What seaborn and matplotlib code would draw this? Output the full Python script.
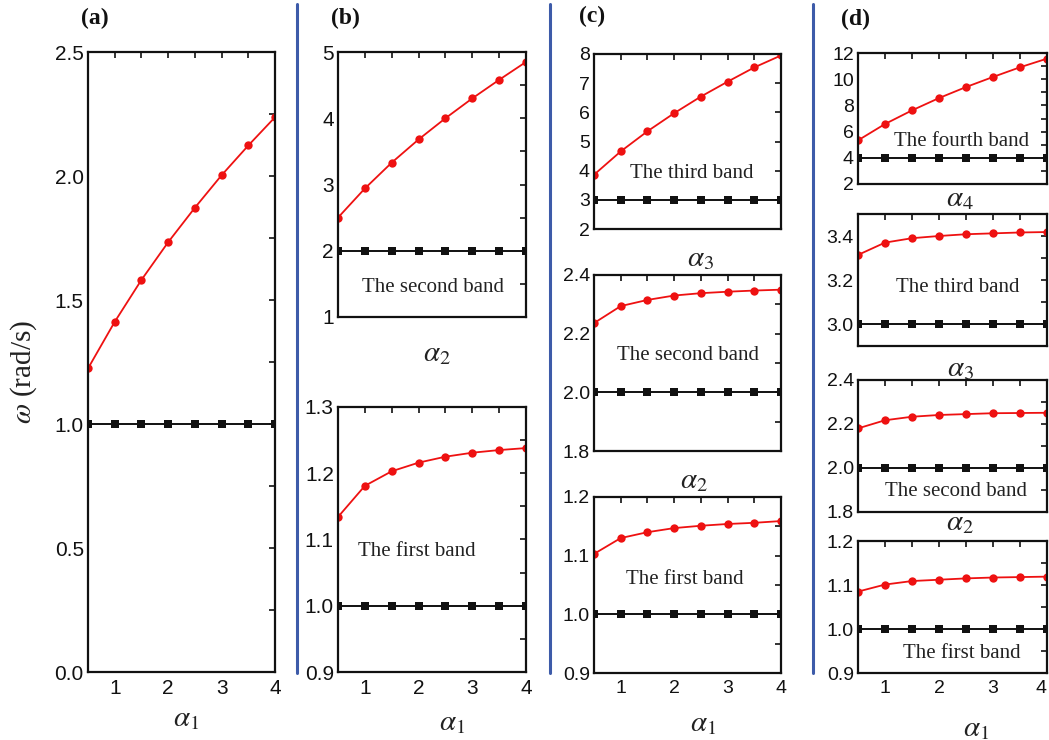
import numpy as np
import pandas as pd
import matplotlib
matplotlib.use("Agg")
import matplotlib.pyplot as plt
import seaborn as sns
from matplotlib.ticker import MultipleLocator, FormatStrFormatter
from matplotlib.lines import Line2D

sns.set_theme(style="white")
plt.rcParams['font.family'] = ['Liberation Sans', 'DejaVu Sans']
plt.rcParams['mathtext.fontset'] = 'stix'

# ---------------- data ----------------
alpha = [0.5, 1.0, 1.5, 2.0, 2.5, 3.0, 3.5, 4.0]
x_tick_labels = ['1', '2', '3', '4']

a_red = [1.224, 1.412, 1.581, 1.733, 1.872, 2.003, 2.123, 2.237]
a_black = [1.0] * 8

b2_red = [2.50, 2.94, 3.33, 3.68, 4.00, 4.30, 4.58, 4.85]
b2_black = [2.0] * 8
b1_red = [1.134, 1.181, 1.203, 1.216, 1.225, 1.231, 1.235, 1.238]
b1_black = [1.0] * 8

c3_red = [3.86, 4.66, 5.35, 5.97, 6.54, 7.05, 7.54, 7.95]
c3_black = [3.0] * 8
c2_red = [2.236, 2.294, 2.315, 2.330, 2.338, 2.343, 2.347, 2.350]
c2_black = [2.0] * 8
c1_red = [1.103, 1.130, 1.140, 1.147, 1.151, 1.154, 1.156, 1.159]
c1_black = [1.0] * 8

d4_red = [5.33, 6.58, 7.62, 8.56, 9.40, 10.17, 10.91, 11.57]
d4_black = [4.0] * 8
d3_red = [3.314, 3.370, 3.390, 3.400, 3.408, 3.412, 3.416, 3.418]
d3_black = [3.0] * 8
d2_red = [2.180, 2.217, 2.233, 2.241, 2.245, 2.249, 2.250, 2.251]
d2_black = [2.0] * 8
d1_red = [1.085, 1.101, 1.109, 1.112, 1.115, 1.117, 1.118, 1.119]
d1_black = [1.0] * 8

W, H = 1049, 740
fig = plt.figure(figsize=(W / 100, H / 100), dpi=100)
fig.patch.set_facecolor('white')


def px_axes(x0, x1, y0, y1):
    return fig.add_axes([x0 / W, 1 - y1 / H, (x1 - x0) / W, (y1 - y0) / H])


def panel(x0, x1, y0, y1, red, black, ylim, major, minor, fmt, xlabels,
          band=None, band_xy=None, band_size=15, xlab=None, xlab_xy=None,
          lsize=15):
    ax = px_axes(x0, x1, y0, y1)
    df = pd.DataFrame({'alpha': alpha, 'red': red, 'black': black})
    sns.lineplot(data=df, x='alpha', y='black', ax=ax, color='#111111',
                 marker='s', markersize=5.5, markeredgewidth=0, linewidth=1.4)
    sns.lineplot(data=df, x='alpha', y='red', ax=ax, color='#ee1111',
                 marker='o', markersize=6, markeredgewidth=0, linewidth=1.3)
    ax.set_xlim(0.5, 4)
    ax.set_ylim(*ylim)
    ax.set_xticks([1, 2, 3, 4])
    ax.xaxis.set_minor_locator(MultipleLocator(0.5))
    ax.yaxis.set_major_locator(MultipleLocator(major))
    if minor:
        ax.yaxis.set_minor_locator(MultipleLocator(minor))
    ax.yaxis.set_major_formatter(FormatStrFormatter(fmt))
    ax.tick_params(which='both', direction='in', top=True, right=True,
                   length=4, width=1.2, colors='#111111', labelsize=lsize,
                   pad=3)
    ax.tick_params(axis='x', pad=5)
    if xlabels:
        ax.set_xticklabels(x_tick_labels)
    else:
        ax.set_xticklabels([])
    ax.set_xlabel('')
    ax.set_ylabel('')
    for s in ax.spines.values():
        s.set_linewidth(1.6)
        s.set_color('#111111')
        s.set_visible(True)
    ax.set_facecolor('white')
    if band:
        fig.text(band_xy[0] / W, 1 - band_xy[1] / H, band, ha='center',
                 va='center', fontsize=band_size, family='Liberation Serif',
                 color='#222222')
    if xlab:
        fig.text(xlab_xy[0] / W, 1 - xlab_xy[1] / H, xlab, ha='center',
                 va='center', fontsize=21, color='#222222')
    return ax


# (a)
panel(88, 275, 52, 672, a_red, a_black, (0, 2.5), 0.5, 0.25, '%.1f', True,
      xlab=r'$\alpha_1$', xlab_xy=(186, 718))

# (b)
panel(338, 526, 52, 317, b2_red, b2_black, (1, 5), 1, 0.5, '%d', False,
      band='The second band', band_xy=(433, 288), band_size=15,
      xlab=r'$\alpha_2$', xlab_xy=(437, 353))
panel(338, 526, 407, 672, b1_red, b1_black, (0.9, 1.3), 0.1, 0.05, '%.1f', True,
      band='The first band', band_xy=(417, 552), band_size=15,
      xlab=r'$\alpha_1$', xlab_xy=(452, 722))

# (c)
panel(594, 781, 54, 229, c3_red, c3_black, (2, 8), 1, None, '%d', False,
      band='The third band', band_xy=(692, 174), band_size=15,
      xlab=r'$\alpha_3$', xlab_xy=(700, 258), lsize=14)
panel(594, 781, 275, 451, c2_red, c2_black, (1.8, 2.4), 0.2, 0.1, '%.1f', False,
      band='The second band', band_xy=(688, 356), band_size=15,
      xlab=r'$\alpha_2$', xlab_xy=(694, 480), lsize=14)
panel(594, 781, 497, 673, c1_red, c1_black, (0.9, 1.2), 0.1, 0.05, '%.1f', True,
      band='The first band', band_xy=(685, 579), band_size=15,
      xlab=r'$\alpha_1$', xlab_xy=(703, 723), lsize=14)

# (d)
panel(858, 1047, 53, 184, d4_red, d4_black, (2, 12), 2, 1, '%d', False,
      band='The fourth band', band_xy=(962, 142), band_size=15,
      xlab=r'$\alpha_4$', xlab_xy=(960, 198), lsize=14)
panel(858, 1047, 214, 346, d3_red, d3_black, (2.9, 3.5), 0.2, 0.1, '%.1f', False,
      band='The third band', band_xy=(958, 288), band_size=15,
      xlab=r'$\alpha_3$', xlab_xy=(960, 368), lsize=14)
panel(858, 1047, 380, 512, d2_red, d2_black, (1.8, 2.4), 0.2, 0.1, '%.1f', False,
      band='The second band', band_xy=(956, 491), band_size=15,
      xlab=r'$\alpha_2$', xlab_xy=(960, 522), lsize=14)
ax_last = panel(858, 1047, 541, 673, d1_red, d1_black, (0.9, 1.2), 0.1, 0.05, '%.1f', True,
                band='The first band', band_xy=(962, 654), band_size=15,
                xlab=r'$\alpha_1$', xlab_xy=(976, 728), lsize=14)
# keep the last "4" inside the canvas
for t in ax_last.xaxis.get_major_ticks()[-1:]:
    t.label1.set_horizontalalignment('right')

# y label
fig.text(24 / W, 1 - 372 / H, r'$\omega$ (rad/s)', rotation=90, ha='center',
         va='center', fontsize=21, family='Liberation Serif', color='#222222')

# panel tags
for tag, x, y in [('(a)', 95, 18), ('(b)', 345, 18), ('(c)', 592, 16), ('(d)', 855, 19)]:
    fig.text(x / W, 1 - y / H, tag, ha='center', va='center', fontsize=17,
             family='Liberation Serif', fontweight='bold', color='#111111')

# blue separators
for xs in [297, 550, 813]:
    fig.add_artist(Line2D([xs / W, xs / W], [1 - 4 / H, 1 - 673 / H],
                          color='#3d5ba9', linewidth=2.2,
                          transform=fig.transFigure))

fig.savefig('out.png', dpi=100, facecolor='white')
